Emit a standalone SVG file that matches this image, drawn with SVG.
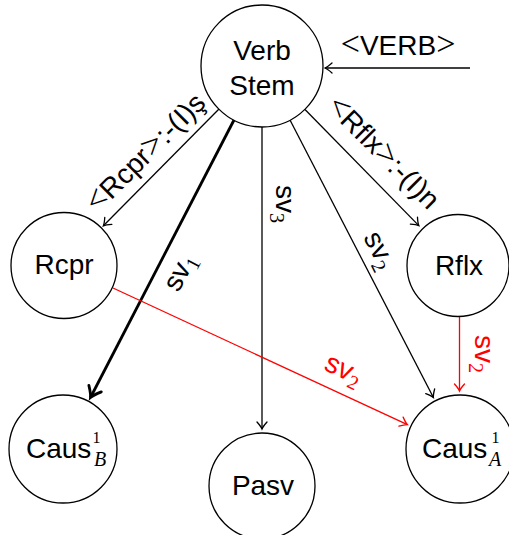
<svg xmlns="http://www.w3.org/2000/svg" width="509" height="535" viewBox="0 0 509 535">
  <defs>
    <style>
      .node circle { fill: #fff; stroke: #000; stroke-width: 1.3; }
      .lbl { font-family: "Liberation Sans", Arial, sans-serif; font-size: 28px; fill: #000; }
      .m { font-family: "Liberation Serif", "Times New Roman", serif; font-size: 34px; }
      .sub { font-family: "Liberation Serif", "Times New Roman", serif; font-size: 20px; }
      .sup { font-family: "Liberation Serif", "Times New Roman", serif; font-size: 16px; }
      .it { font-style: italic; }
      .edge { stroke: #000; stroke-width: 1.3; fill: none; }
      .thick { stroke-width: 2.8; }
      .red { stroke: #f00; }
      .redtxt { fill: #f00; }
    </style>
    <marker id="arr" markerUnits="userSpaceOnUse" markerWidth="20" markerHeight="20" viewBox="-10 -10 20 20" refX="0" refY="0" orient="auto" overflow="visible">
      <path d="M-7,-5 Q-2.5,-1 0,0 Q-2.5,1 -7,5" fill="none" stroke="#000" stroke-width="1.3" stroke-linecap="round"/>
    </marker>
    <marker id="arrThick" markerUnits="userSpaceOnUse" markerWidth="30" markerHeight="30" viewBox="-15 -15 30 30" refX="0" refY="0" orient="auto" overflow="visible">
      <path d="M-10,-7 Q-3.5,-1.4 0,0 Q-3.5,1.4 -10,7" fill="none" stroke="#000" stroke-width="2.8" stroke-linecap="round"/>
    </marker>
    <marker id="arrRed" markerUnits="userSpaceOnUse" markerWidth="20" markerHeight="20" viewBox="-10 -10 20 20" refX="0" refY="0" orient="auto" overflow="visible">
      <path d="M-7,-5 Q-2.5,-1 0,0 Q-2.5,1 -7,5" fill="none" stroke="#f00" stroke-width="1.3" stroke-linecap="round"/>
    </marker>
  </defs>

  <!-- connectors and their labels -->
  <g id="connectors">
    <!-- entry arrow into the stem -->
    <line class="edge" x1="470" y1="68" x2="325" y2="68" marker-end="url(#arr)"/>
    <text class="lbl" x="398" y="55" text-anchor="middle"><tspan class="m">&lt;</tspan>VERB<tspan class="m">&gt;</tspan></text>

    <!-- stem to reciprocal -->
    <line class="edge" x1="219" y1="109" x2="103.4" y2="225.8" marker-end="url(#arr)"/>
    <text class="lbl" transform="translate(146,153) rotate(-45)" y="9" text-anchor="middle"><tspan class="m">&lt;</tspan>Rcpr<tspan class="m">&gt;</tspan>:-(I)ş</text>

    <!-- stem to reflexive -->
    <line class="edge" x1="305" y1="109.5" x2="418.8" y2="225.6" marker-end="url(#arr)"/>
    <text class="lbl" transform="translate(383,153) rotate(45)" y="9" text-anchor="middle"><tspan class="m">&lt;</tspan>Rflx<tspan class="m">&gt;</tspan>:-(I)n</text>

    <!-- stem to causative B (thick) -->
    <line class="edge thick" x1="234" y1="120" x2="90.5" y2="397.5" marker-end="url(#arrThick)"/>
    <text class="lbl" transform="translate(181,273) rotate(-62.5)" y="7" text-anchor="middle">sv<tspan class="sub" dy="6">1</tspan></text>

    <!-- stem to passive -->
    <line class="edge" x1="262" y1="127" x2="262" y2="429" marker-end="url(#arr)"/>
    <text class="lbl" transform="translate(283,204) rotate(90)" y="7" text-anchor="middle">sv<tspan class="sub" dy="6">3</tspan></text>

    <!-- stem to causative A -->
    <line class="edge" x1="290" y1="120" x2="433.4" y2="397.5" marker-end="url(#arr)"/>
    <text class="lbl" transform="translate(378,251) rotate(62.8)" y="7" text-anchor="middle">sv<tspan class="sub" dy="6">2</tspan></text>

    <!-- reciprocal to causative A -->
    <line class="edge red" x1="113" y1="288" x2="407.4" y2="424.6" marker-end="url(#arrRed)"/>
    <text class="lbl redtxt" transform="translate(343,371) rotate(24.9)" y="7" text-anchor="middle">sv<tspan class="sub" dy="6">2</tspan></text>

    <!-- reflexive to causative A -->
    <line class="edge red" x1="459.5" y1="317" x2="459.5" y2="391" marker-end="url(#arrRed)"/>
    <text class="lbl redtxt" transform="translate(482,354) rotate(90)" y="7" text-anchor="middle">sv<tspan class="sub" dy="6">2</tspan></text>
  </g>

  <!-- nodes -->
  <g id="verb-stem" class="node">
    <circle cx="262" cy="66" r="61"/>
    <text class="lbl" x="262" y="60" text-anchor="middle">Verb</text>
    <text class="lbl" x="262" y="95" text-anchor="middle">Stem</text>
  </g>
  <g id="rcpr" class="node">
    <circle cx="64" cy="265.5" r="53"/>
    <text class="lbl" x="64" y="274" text-anchor="middle">Rcpr</text>
  </g>
  <g id="rflx" class="node">
    <circle cx="458" cy="265.5" r="51"/>
    <text class="lbl" x="459" y="275" text-anchor="middle">Rflx</text>
  </g>
  <g id="caus-b" class="node">
    <circle cx="63" cy="449" r="54"/>
    <text class="lbl" x="26" y="458">Caus</text>
    <text class="sup" x="92.5" y="443">1</text>
    <text class="sub it" x="94" y="466">B</text>
  </g>
  <g id="pasv" class="node">
    <circle cx="262" cy="486" r="53"/>
    <text class="lbl" x="263" y="495" text-anchor="middle">Pasv</text>
  </g>
  <g id="caus-a" class="node">
    <circle cx="460" cy="449" r="54"/>
    <text class="lbl" x="422" y="458">Caus</text>
    <text class="sup" x="491.5" y="443">1</text>
    <text class="sub it" x="489" y="466">A</text>
  </g>
</svg>
